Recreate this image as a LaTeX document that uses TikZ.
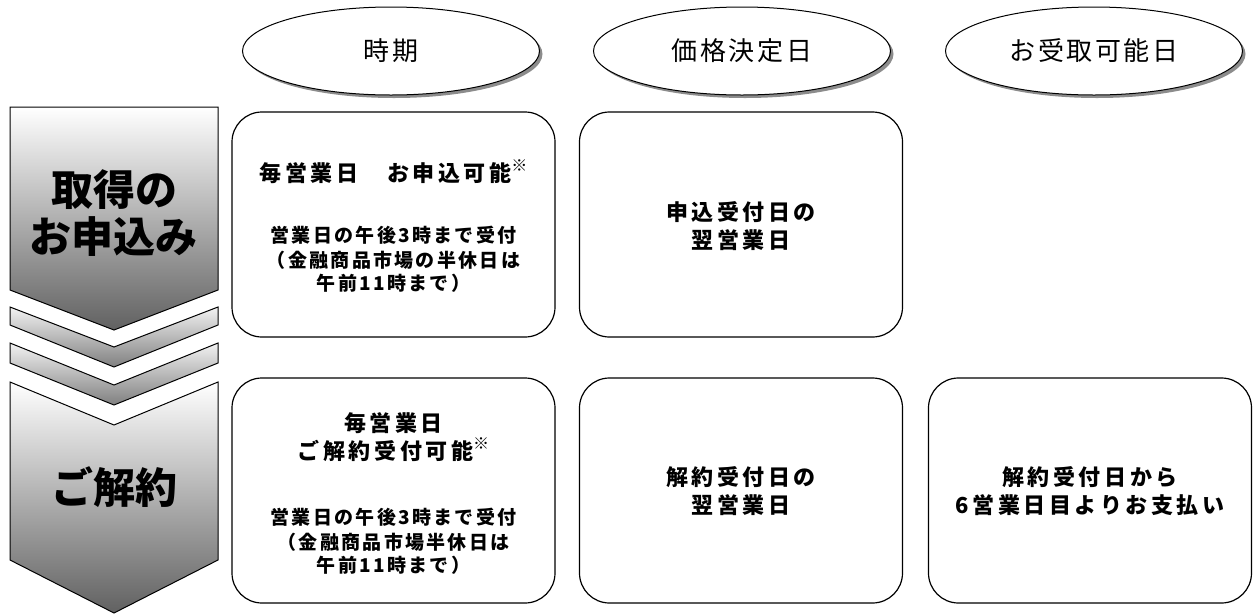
\documentclass[tikz,border=0pt]{standalone}
\usepackage{fontspec}
\setmainfont{Noto Sans CJK JP}
\usetikzlibrary{shapes.geometric,shadows}
\newcommand{\fsz}[1]{\fontsize{#1}{#1}\selectfont}
\newcommand{\kome}{\raisebox{0.45em}{\fsz{16}※}}
\begin{document}
\begin{tikzpicture}[x=1pt,y=-1pt,
  head/.style={ellipse,draw=black,line width=1pt,fill=white,minimum width=297pt,minimum height=88pt,
    drop shadow={shadow xshift=3pt,shadow yshift=-3pt,fill=black!45,opacity=1},
    font=\fsz{26}\addfontfeature{LetterSpace=10}},
  box/.style={draw=black,line width=1.2pt,rounded corners=30pt,minimum width=323pt,minimum height=225pt,fill=white},
  big/.style={font=\fsz{22}\bfseries\addfontfeature{LetterSpace=16}},
  small/.style={font=\fsz{19}\bfseries\addfontfeature{LetterSpace=12}},
  arrtxt/.style={font=\fsz{42}\bfseries},
  arr/.style={draw=black,line width=1pt,top color=white,bottom color=black!62}]
\useasboundingbox (0,0) rectangle (1254,614);
% left arrows
\draw[arr] (10,107) -- (218,107) -- (218,290) -- (114,330) -- (10,290) -- cycle;
\draw[arr,top color=black!5,bottom color=black!50] (10,307) -- (114,347) -- (218,307) -- (218,325) -- (114,367) -- (10,325) -- cycle;
\draw[arr,top color=black!5,bottom color=black!50] (10,343) -- (114,385) -- (218,343) -- (218,363) -- (114,405) -- (10,363) -- cycle;
\draw[arr] (10,382) -- (114,425) -- (218,382) -- (218,560) -- (114,613) -- (10,560) -- cycle;
\node[arrtxt] (a1) at (114,190) {取得の};
\node[arrtxt] (a2) at (114,237) {お申込み};
\node[arrtxt] (a3) at (114,487) {ご解約};
% headers
\node[head] (h1) at (391,51) {時期};
\node[head] (h2) at (742,51) {価格決定日};
\node[head] (h3) at (1094,51) {お受取可能日};
% boxes
\node[box] (b11) at (393.5,224.5) {};
\node[box] (b12) at (741,224.5) {};
\node[box] (b21) at (393.5,490.5) {};
\node[box] (b22) at (741,490.5) {};
\node[box] (b23) at (1090,490.5) {};
% texts row 1
\node[big] (t1) at (393.5,172) {毎営業日　お申込可能\kome};
\node[small] (t2) at (393.5,235) {営業日の午後3時まで受付};
\node[small] (t3) at (393.5,260) {（金融商品市場の半休日は};
\node[small] (t4) at (393.5,283) {午前11時まで）};
\node[big] (t5) at (741,212) {申込受付日の};
\node[big] (t6) at (741,240) {翌営業日};
% texts row 2
\node[big] (u1) at (393.5,423) {毎営業日};
\node[big] (u2) at (393.5,450) {ご解約受付可能\kome};
\node[small] (u3) at (393.5,517) {営業日の午後3時まで受付};
\node[small] (u4) at (393.5,542) {（金融商品市場半休日は};
\node[small] (u5) at (393.5,565) {午前11時まで）};
\node[big] (u6) at (741,477) {解約受付日の};
\node[big] (u7) at (741,505) {翌営業日};
\node[big] (u8) at (1090,477) {解約受付日から};
\node[big] (u9) at (1090,505) {6営業日目よりお支払い};
\end{tikzpicture}
\end{document}
